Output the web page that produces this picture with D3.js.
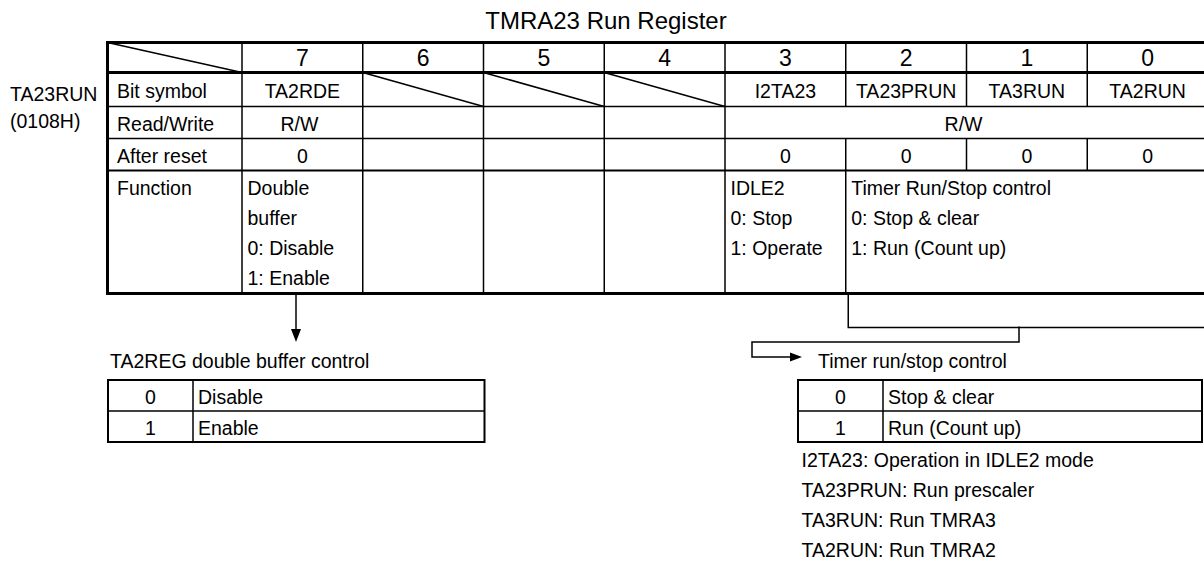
<!DOCTYPE html>
<html><head><meta charset="utf-8">
<script src="https://cdn.jsdelivr.net/npm/d3@7"></script>
<style>
html,body{margin:0;padding:0;background:#fff;}
svg{display:block;}
text{font-family:"Liberation Sans",Arial,Helvetica,sans-serif;fill:#000;}
</style>
</head><body>
<svg id="c" width="1204" height="564"></svg>
<script>
// ---- data ----
const title = "TMRA23 Run Register";
const registerName = "TA23RUN";
const registerAddr = "(0108H)";
const bits = ["7","6","5","4","3","2","1","0"];
const rowLabels = ["Bit symbol","Read/Write","After reset","Function"];
const bitSymbols = ["TA2RDE","","","","I2TA23","TA23PRUN","TA3RUN","TA2RUN"];
const readWriteText = ["R/W","","","","R/W"];
const readWriteSpan = [1,1,1,1,4];
const afterReset = ["0","","","","0","0","0","0"];
const functionSpan = [1,1,1,1,1,3];
const functionLines = [
  ["Double","buffer","0: Disable","1: Enable"],
  [],[],[],
  ["IDLE2","0: Stop","1: Operate"],
  ["Timer Run/Stop control","0: Stop & clear","1: Run (Count up)"]
];
const bufferTitle = "TA2REG double buffer control";
const bufferKeys = ["0","1"];
const bufferDesc = ["Disable","Enable"];
const runTitle = "Timer run/stop control";
const runKeys = ["0","1"];
const runDesc = ["Stop & clear","Run (Count up)"];
const notes = ["I2TA23: Operation in IDLE2 mode","TA23PRUN: Run prescaler","TA3RUN: Run TMRA3","TA2RUN: Run TMRA2"];

// ---- layout ----
const svg = d3.select("#c");
const FS = 19.5;
const L = 107.5, X0 = 242, X1 = 1208;
const x = d3.scaleBand().domain(bits).range([X0, X1]);
const bw = x.bandwidth();
const colLeft = i => X0 + i * bw;
const rowY = [42.5, 72.5, 106.5, 138.5, 170.5, 293.5];
const hW = [3, 3, 1.5, 1.5, 2, 3];
const thin = 1.5;

const g = svg.append("g");
function line(x1,y1,x2,y2,w){
  g.append("line").attr("x1",x1).attr("y1",y1).attr("x2",x2).attr("y2",y2)
   .attr("stroke","#000").attr("stroke-width",w);
}
function text(t,xx,yy,anchor,size){
  return g.append("text").attr("x",xx).attr("y",yy).attr("text-anchor",anchor||"start")
    .style("font-size",(size||FS)+"px").text(t);
}

// title
text(title, 606, 29, "middle", 24);
// register name
text(registerName, 10, 101);
text(registerAddr, 10, 128);

// vertical separators per row
function starts(spans){ const s=[]; let c=0; spans.forEach(v=>{s.push(c); c+=v;}); return s; }
const rowStarts = [
  bits.map((d,i)=>i),
  bitSymbols.map((d,i)=>i),
  starts(readWriteSpan),
  afterReset.map((d,i)=>i),
  starts(functionSpan)
];
rowStarts.forEach((st,r)=>{
  st.forEach(i=>line(colLeft(i), rowY[r], colLeft(i), rowY[r+1], thin));
});
// horizontal lines
rowY.forEach((yy,i)=>line(L-1.5, yy, X1, yy, hW[i]));
// outer left/right
line(L, rowY[0], L, rowY[5], 3);
line(X1, rowY[0], X1, rowY[5], 3);

// header diagonal
line(L, rowY[0], X0, rowY[1], thin);
// header digits
bits.forEach(b=>text(b, x(b)+bw/2, 66, "middle", 23));

// row labels
const rowMid = r => (rowY[r] + rowY[r+1]) / 2;
rowLabels.forEach((lab,r)=>{
  const yy = r < 3 ? rowMid(r+1) + 8 : rowY[4] + 24.5;
  text(lab, L + 9.5, yy);
});

// bit symbols
bitSymbols.forEach((s,i)=>{
  if (s) text(s, colLeft(i)+bw/2, rowMid(1)+8.5, "middle");
  else line(colLeft(i), rowY[1], colLeft(i+1), rowY[2], thin);
});
// read/write
starts(readWriteSpan).forEach((st,k)=>{
  if (readWriteText[k]) text(readWriteText[k], colLeft(st) + readWriteSpan[k]*bw/2 - 3, rowMid(2)+8, "middle");
});
// after reset
afterReset.forEach((v,i)=>{ if (v) text(v, colLeft(i)+bw/2, rowMid(3)+8, "middle"); });
// function
starts(functionSpan).forEach((st,k)=>{
  functionLines[k].forEach((ln,j)=>text(ln, colLeft(st)+5.5, rowY[4]+24.5+30*j));
});

// ---- arrow from bit 7 ----
const ax = x("7") + 54;
line(ax, rowY[5], ax, 331, thin);
g.append("path").attr("d", `M${ax-5},329 L${ax+5},329 L${ax},342 Z`).attr("fill","#000");

// ---- bracket for bits 2..0 ----
const bl = colLeft(5) + 2.5;
const bracketY = 327.5, tickX = 1019, lowY = 342, leftX = 752, arrowY = 357;
g.append("path").attr("d",`M${bl},${rowY[5]} V${bracketY} H${X1+5}`).attr("fill","none").attr("stroke","#000").attr("stroke-width",thin);
g.append("path").attr("d",`M${tickX},${bracketY-1} V${lowY} H${leftX} V${arrowY} H${792}`).attr("fill","none").attr("stroke","#000").attr("stroke-width",thin);
g.append("path").attr("d",`M790,${arrowY-4.5} L802,${arrowY} L790,${arrowY+4.5} Z`).attr("fill","#000");

// ---- small tables ----
function smallTable(left, right, top, keys, desc, titleText, titleX, titleY){
  const keyW = 85, rh = 31;
  text(titleText, titleX, titleY);
  const rows = keys.length;
  const bottom = top + rh*rows;
  // inner lines
  for (let r=1;r<rows;r++) line(left, top+rh*r, right, top+rh*r, thin);
  line(left+keyW, top, left+keyW, bottom, thin);
  g.append("rect").attr("x",left).attr("y",top).attr("width",right-left).attr("height",bottom-top)
    .attr("fill","none").attr("stroke","#000").attr("stroke-width",2);
  keys.forEach((k,r)=>{
    text(k, left+keyW/2, top+rh*r+23.5, "middle");
    text(desc[r], left+keyW+5, top+rh*r+23.5);
  });
}
smallTable(108, 484.5, 380, bufferKeys, bufferDesc, bufferTitle, 110, 368);
smallTable(798, 1202, 380, runKeys, runDesc, runTitle, 818, 368);

// notes
notes.forEach((n,i)=>text(n, 801.5, 466.5 + 30*i));
</script>
</body></html>
